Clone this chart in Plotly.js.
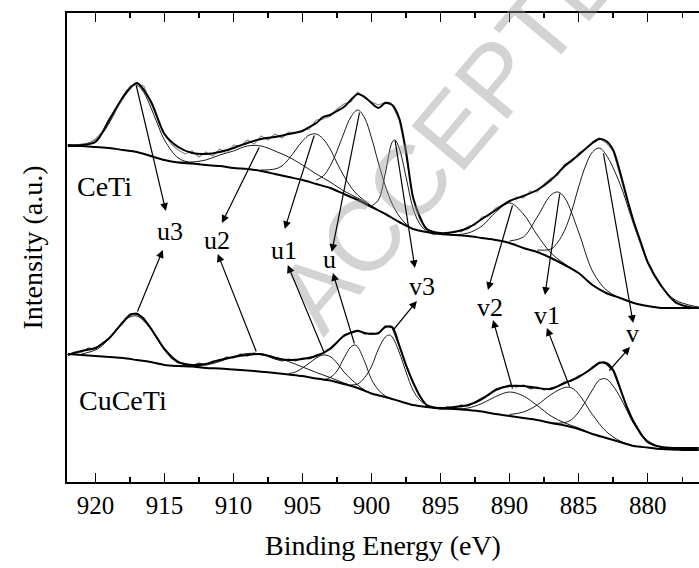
<!DOCTYPE html>
<html>
<head>
<meta charset="utf-8">
<script src="https://cdn.plot.ly/plotly-3.0.1.min.js"></script>
<style>html,body{margin:0;padding:0;background:#fff;}#chart{width:699px;height:568px;}</style>
</head>
<body>
<div id="chart"></div>
<script>
// ---------------- DATA (binding energy in eV, intensity in a.u.) ----------------
const xTicks = [920, 915, 910, 905, 900, 895, 890, 885, 880];
const xTickLabels = ["920", "915", "910", "905", "900", "895", "890", "885", "880"];

// CeTi
const ceti_env_x = [922, 921, 920, 919, 918, 917, 916, 915, 914, 913, 912, 911, 910, 909, 908, 907, 906, 905, 904.5, 904, 903.5, 903, 902.5, 902, 901.5, 901, 900.5, 900, 899.5, 899, 898.5, 898, 897.5, 897, 896.5, 896, 895, 894, 893, 892, 891, 890, 889, 888, 887, 886, 885, 884, 883.5, 883, 882.5, 882, 881.5, 881, 880.5, 880, 879, 878, 877, 876.3];
const ceti_env_y = [337, 337, 340, 362, 385, 399, 381, 348, 335, 329, 328, 330, 334, 339, 343, 345, 348, 351, 355, 359, 365, 367, 371, 375, 382, 388, 385, 379, 374, 379, 377, 364, 330, 285, 265, 253, 249, 250, 254, 263, 272, 281, 286, 292, 302, 316, 327, 339, 343, 341, 332, 310, 284, 260, 240, 220, 196, 180, 175, 174];
const ceti_raw_x = [922, 921.5, 921, 920.5, 920, 919.5, 919, 918.5, 918, 917.5, 917, 916.5, 916, 915.5, 915, 914.5, 914, 913.5, 913, 912.5, 912, 911.5, 911, 910.5, 910, 909.5, 909, 908.5, 908, 907.5, 907, 906.5, 906, 905.5, 905, 904.5, 904, 903.5, 903, 902.5, 902, 901.5, 901, 900.5, 900, 899.5, 899, 898.5, 898, 897.5, 897, 896.5, 896, 895.5, 895, 894.5, 894, 893.5, 893, 892.5, 892, 891.5, 891, 890.5, 890, 889.5, 889, 888.5, 888, 887.5, 887, 886.5, 886, 885.5, 885, 884.5, 884, 883.5, 883, 882.5, 882, 881.5, 881, 880.5, 880, 879.5, 879, 878.5, 878, 877.5, 877, 876.5];
const ceti_raw_y = [337, 337, 338, 338, 343, 350, 364, 372, 383, 396, 398, 396, 379, 364, 347, 338, 332, 328, 331, 325, 330, 326, 333, 329, 337, 336, 342, 338, 346, 342, 348, 344, 350, 349, 352, 353, 362, 363, 366, 373, 378, 380, 390, 384, 380, 377, 380, 377, 362, 328, 284, 262, 251, 247, 249, 248, 251, 250, 256, 257, 265, 266, 274, 277, 280, 285, 284, 291, 290, 298, 304, 307, 318, 320, 329, 333, 340, 344, 339, 331, 307, 282, 258, 238, 219, 205, 195, 186, 179, 176, 173, 175];
const ceti_bg_x = [922, 921, 920, 919, 918, 917, 916, 915, 914, 913, 912, 911, 910, 909, 908, 907, 906, 905, 904, 903, 902, 901, 900, 899, 898, 897, 896, 895, 894, 893, 892, 891, 890, 889, 888, 887, 886, 885, 884, 883, 882, 881, 880, 879, 878, 877, 876.3];
const ceti_bg_y = [336, 336, 335, 334, 332, 330, 326, 322, 319.5, 318.5, 317, 316, 314, 313, 311, 308, 305, 302, 298, 294, 288, 282, 275, 268, 260, 253, 250, 248, 247, 246, 244, 242, 239, 234, 230, 224, 217, 209, 197, 189, 184, 179, 176, 174, 174, 174, 174];
const ceti_u3_x = [921, 920, 919.5, 919, 918.5, 918, 917.5, 917, 916.5, 916, 915.5, 915, 914, 913, 912];
const ceti_u3_y = [337, 342, 348.5, 359, 372, 386, 395, 397, 389.5, 375, 358, 342, 324, 319, 317];
const ceti_u2_x = [914, 913, 912, 911, 910, 909, 908, 907, 906, 905, 904, 903, 902, 901, 900, 899];
const ceti_u2_y = [320, 320, 322, 327, 331, 336, 336, 331, 325, 317, 308, 300, 291, 284, 276, 268];
const ceti_u1_x = [908, 907, 906.5, 906, 905.5, 905, 904.5, 904, 903.5, 903, 902.5, 902, 901.5, 901, 900];
const ceti_u1_y = [312, 313, 316, 323, 332, 341, 347, 348, 343, 333, 319, 306, 295, 287, 276];
const ceti_u_x = [904, 903.5, 903, 902.5, 902, 901.5, 901, 900.5, 900, 899.5, 899, 898.5, 898, 897.5, 897];
const ceti_u_y = [302, 306, 316, 331, 349, 365, 372, 364, 344, 319, 296, 278, 266, 258, 253];
const ceti_v3_x = [900, 899.5, 899, 898.5, 898.3, 898, 897.5, 897, 896.5, 896, 895.5];
const ceti_v3_y = [276, 282, 309, 340, 342, 334, 305, 274, 258, 251, 249];
const ceti_v2_x = [894, 893, 892, 891, 890, 889, 888, 887, 886, 885];
const ceti_v2_y = [247, 249, 256, 270, 279, 268, 247, 229, 218, 209];
const ceti_v1_x = [890, 889, 888, 887, 886.5, 886, 885, 884, 883, 882];
const ceti_v1_y = [241, 245, 265, 287, 290, 284, 250, 211, 192, 184];
const ceti_v_x = [888, 887, 886.5, 886, 885.5, 885, 884.5, 884, 883.5, 883, 882, 881, 880, 879, 878, 877, 876.3];
const ceti_v_y = [232, 233, 240, 252, 271, 295, 316, 330, 334, 327, 298, 257, 220, 195, 182, 177, 175];

// CuCeTi
const cu_env_x = [922, 921, 920, 919, 918, 917.5, 917, 916.5, 916, 915, 914, 913, 912, 911, 910, 909, 908, 907, 906, 905, 904, 903, 902, 901, 900.5, 900, 899.5, 899, 898.5, 898, 897.5, 897, 896.5, 896, 895, 894, 893, 892, 891, 890, 889, 888, 887, 886, 885, 884, 883.5, 883, 882.5, 882, 881.5, 881, 880, 879, 878, 877, 876.3];
const cu_env_y = [127, 131, 134, 144, 160, 167, 168, 163, 154, 133, 120, 117, 118, 122, 125, 127, 128, 124, 122, 123, 126, 133, 146, 151, 149, 148, 149, 155, 155, 137, 117, 100, 86, 77, 74, 75, 77, 83, 92, 96, 96, 94, 93, 99, 105, 114, 119, 119, 112, 94, 75, 60, 40, 35, 34, 34, 34];
const cu_raw_x = [922, 921.5, 921, 920.5, 920, 919.5, 919, 918.5, 918, 917.5, 917, 916.5, 916, 915.5, 915, 914.5, 914, 913.5, 913, 912.5, 912, 911.5, 911, 910.5, 910, 909.5, 909, 908.5, 908, 907.5, 907, 906.5, 906, 905.5, 905, 904.5, 904, 903.5, 903, 902.5, 902, 901.5, 901, 900.5, 900, 899.5, 899, 898.5, 898, 897.5, 897, 896.5, 896, 895.5, 895, 894.5, 894, 893.5, 893, 892.5, 892, 891.5, 891, 890.5, 890, 889.5, 889, 888.5, 888, 887.5, 887, 886.5, 886, 885.5, 885, 884.5, 884, 883.5, 883, 882.5, 882, 881.5, 881, 880.5, 880, 879.5, 879, 878.5, 878, 877.5, 877, 876.5];
const cu_raw_y = [127, 130, 130, 134, 133, 139, 143, 152, 159, 168, 169, 164, 153, 144, 132, 124, 119, 118, 116, 119, 117, 121, 121, 125, 124, 128, 126, 129, 127, 126, 123, 121, 123, 121, 124, 123, 127, 129, 134, 140, 147, 150, 152, 148, 149, 148, 156, 154, 136, 116, 99, 86, 76, 74, 73, 75, 74, 77, 76, 80, 84, 87, 93, 95, 97, 95, 97, 93, 95, 92, 94, 96, 100, 101, 106, 109, 115, 120, 118, 111, 93, 74, 59, 47, 40, 36, 35, 33, 32, 34, 34, 34];
const cu_bg_x = [922, 921, 920, 919, 918, 917, 916, 915, 914, 913, 912, 911, 910, 909, 908, 907, 906, 905, 904, 903, 902, 901, 900, 899, 898, 897, 896, 895, 894, 893, 892, 891, 890, 889, 888, 887, 886, 885, 884, 883, 882, 881, 880, 879, 878, 877, 876.3];
const cu_bg_y = [128, 127, 126, 125, 124, 122, 120, 117, 116, 115.5, 114, 113.5, 112.5, 111.5, 110.3, 109, 107.5, 106, 103.5, 101.5, 98, 94, 88.5, 85, 81, 77, 75, 73.5, 73, 72, 70.5, 68, 66, 64, 62, 59, 56.5, 53, 48, 44, 40, 36, 34.5, 33, 32.5, 32, 32];
const cu_u3_x = [921, 920, 919.5, 919, 918.5, 918, 917.5, 917, 916.5, 916, 915.5, 915, 914, 913, 912];
const cu_u3_y = [128, 132, 136.5, 144, 152.5, 160, 165, 166, 161, 153, 142.5, 132, 120, 116.5, 114];
const cu_u2_x = [914, 913, 912, 911, 910, 909, 908, 907, 906, 905, 904, 903, 902, 901];
const cu_u2_y = [116, 116.5, 117, 120.5, 125.5, 128.5, 128, 125, 120.5, 115, 109.5, 104.5, 99, 94];
const cu_u1_x = [906, 905.5, 905, 904.5, 904, 903.5, 903, 902.5, 902, 901.5, 901, 900.5, 900];
const cu_u1_y = [108.5, 110, 114, 119, 124, 127, 125.5, 119, 110, 103, 97, 92, 88.5];
const cu_u_x = [903.5, 903, 902.5, 902, 901.5, 901.2, 901, 900.5, 900, 899.5, 899, 898.5];
const cu_u_y = [102, 104.5, 111, 124, 135, 137, 135, 120.5, 102.5, 92, 86, 83];
const cu_v3_x = [901.5, 901, 900.5, 900, 899.5, 899, 898.7, 898.5, 898, 897.5, 897, 896.5, 896, 895.5];
const cu_v3_y = [97, 98, 104.5, 115.5, 133, 145, 147, 145, 130, 110, 92, 82, 77, 74];
const cu_v2_x = [894, 893, 892, 891, 890, 889, 888, 887, 886, 885, 884];
const cu_v2_y = [73, 74, 78.5, 85.5, 90, 86, 76.5, 66, 59, 54, 48];
const cu_v1_x = [890, 889, 888, 887, 886, 885.5, 885, 884, 883, 882, 881];
const cu_v1_y = [67.5, 70, 77, 87.5, 94.5, 94, 88, 67.5, 50.5, 41, 36];
const cu_v_x = [887, 886, 885.5, 885, 884.5, 884, 883.5, 883, 882.5, 882, 881.5, 881, 880, 879, 878, 877, 876.3];
const cu_v_y = [59, 59.5, 62.5, 70, 80.5, 92, 102, 103, 96, 85, 71.5, 58, 41.5, 34.5, 32.5, 32, 32];

// Peak labels: text, label position, CeTi arrow (head, tail), CuCeTi arrow (head, tail)
const peakNames = ["u3", "u2", "u1", "u", "v3", "v2", "v1", "v"];
const labelX = [914.62, 911.21, 906.36, 903.02, 896.36, 891.43, 887.3, 881.07];
const labelY = [251, 242, 232, 223, 196, 175, 167, 149];
const ceHeadX = [914.9, 910.84, 906.29, 902.88, 896.86, 891.57, 887.44, 881.05];
const ceHeadY = [271, 259, 253, 230, 214, 192, 187, 159];
const ceTailX = [917.07, 908.09, 904.12, 900.85, 898.31, 889.76, 886.35, 883.22];
const ceTailY = [398, 336, 348, 371, 343, 278, 290, 330];
const cuHeadX = [915.12, 911.14, 906.07, 902.8, 896.72, 891.2, 887.3, 881.28];
const cuHeadY = [232, 228, 217, 209, 181, 162, 154, 135];
const cuTailX = [917.0, 908.31, 903.39, 901.21, 898.54, 889.76, 885.62, 882.87];
const cuTailY = [169, 129, 128, 137, 150, 92, 94, 110];

const sampleNames = ["CeTi", "CuCeTi"];
const sampleLabelX = [921.5, 921.35];
const sampleLabelY = [296, 82];

// ---------------- TRACES ----------------
const FONT = "Liberation Serif";
const traces = [];
function comp(x, y) {
  traces.push({x: x, y: y, type: "scatter", mode: "lines", hoverinfo: "skip", showlegend: false,
    line: {color: "#000", width: 0.9, shape: "spline", smoothing: 1}});
}
function raw(x, y, col) {
  traces.push({x: x, y: y, type: "scatter", mode: "lines", hoverinfo: "skip", showlegend: false,
    line: {color: col, width: 1.1}});
}
function thick(x, y) {
  traces.push({x: x, y: y, type: "scatter", mode: "lines", hoverinfo: "skip", showlegend: false,
    line: {color: "#000", width: 2, shape: "spline", smoothing: 0.8}});
}
[[ceti_u3_x, ceti_u3_y], [ceti_u2_x, ceti_u2_y], [ceti_u1_x, ceti_u1_y], [ceti_u_x, ceti_u_y],
 [ceti_v3_x, ceti_v3_y], [ceti_v2_x, ceti_v2_y], [ceti_v1_x, ceti_v1_y], [ceti_v_x, ceti_v_y],
 [cu_u3_x, cu_u3_y], [cu_u2_x, cu_u2_y], [cu_u1_x, cu_u1_y], [cu_u_x, cu_u_y],
 [cu_v3_x, cu_v3_y], [cu_v2_x, cu_v2_y], [cu_v1_x, cu_v1_y], [cu_v_x, cu_v_y]].forEach(p => comp(p[0], p[1]));
raw(ceti_raw_x, ceti_raw_y, "#8a8a8a");
raw(cu_raw_x, cu_raw_y, "#222");
thick(ceti_bg_x, ceti_bg_y);
thick(cu_bg_x, cu_bg_y);
thick(ceti_env_x, ceti_env_y);
thick(cu_env_x, cu_env_y);

// ---------------- ANNOTATIONS ----------------
const ann = [];
ann.push({xref: "paper", yref: "paper", x: 0.64, y: 0.80, xanchor: "center", yanchor: "middle", text: "ACCEPTED", showarrow: false,
  textangle: -50, font: {family: "Liberation Sans", size: 100, color: "rgba(150,150,150,0.42)"}});
for (let i = 0; i < peakNames.length; i++) {
  ann.push({x: labelX[i], y: labelY[i], xref: "x", yref: "y", text: peakNames[i], showarrow: false,
    font: {family: FONT, size: 26, color: "#000"}});
  ann.push({x: ceHeadX[i], y: ceHeadY[i], ax: ceTailX[i], ay: ceTailY[i], xref: "x", yref: "y", axref: "x", ayref: "y",
    text: "", showarrow: true, arrowhead: 2, arrowsize: 1.3, arrowwidth: 1.2, arrowcolor: "#000", standoff: 0, startstandoff: 0});
  ann.push({x: cuHeadX[i], y: cuHeadY[i], ax: cuTailX[i], ay: cuTailY[i], xref: "x", yref: "y", axref: "x", ayref: "y",
    text: "", showarrow: true, arrowhead: 2, arrowsize: 1.3, arrowwidth: 1.2, arrowcolor: "#000", standoff: 0, startstandoff: 0});
}
for (let i = 0; i < sampleNames.length; i++) {
  ann.push({x: sampleLabelX[i], y: sampleLabelY[i], xref: "x", yref: "y", text: sampleNames[i], showarrow: false,
    xanchor: "left", font: {family: FONT, size: 28, color: "#000"}});
}

const layout = {
  width: 699, height: 568,
  margin: {l: 67, r: 0, t: 13, b: 86, pad: 0},
  paper_bgcolor: "#fff", plot_bgcolor: "#fff",
  showlegend: false,
  font: {family: FONT, color: "#000"},
  xaxis: {
    range: [922.06, 876.28], tickmode: "array", tickvals: xTicks, ticktext: xTickLabels,
    ticks: "inside", ticklen: 9, tickwidth: 1.3, tickcolor: "#000",
    minor: {dtick: 2.5, tick0: 880, ticks: "inside", ticklen: 5, tickwidth: 1.3, tickcolor: "#000", showgrid: false},
    showline: true, linecolor: "#000", linewidth: 1.6, mirror: "ticks",
    showgrid: false, zeroline: false,
    tickfont: {family: FONT, size: 25, color: "#000"},
    title: {text: "Binding Energy (eV)", font: {family: FONT, size: 28, color: "#000"}, standoff: 18}
  },
  yaxis: {
    range: [0, 469], showticklabels: false, ticks: "",
    showline: true, linecolor: "#000", linewidth: 1.6, mirror: false,
    showgrid: false, zeroline: false,
    title: {text: "Intensity (a.u.)", font: {family: FONT, size: 28, color: "#000"}, standoff: 14}
  },
  annotations: ann
};

Plotly.newPlot("chart", traces, layout, {staticPlot: true, displayModeBar: false});
</script>
</body>
</html>
